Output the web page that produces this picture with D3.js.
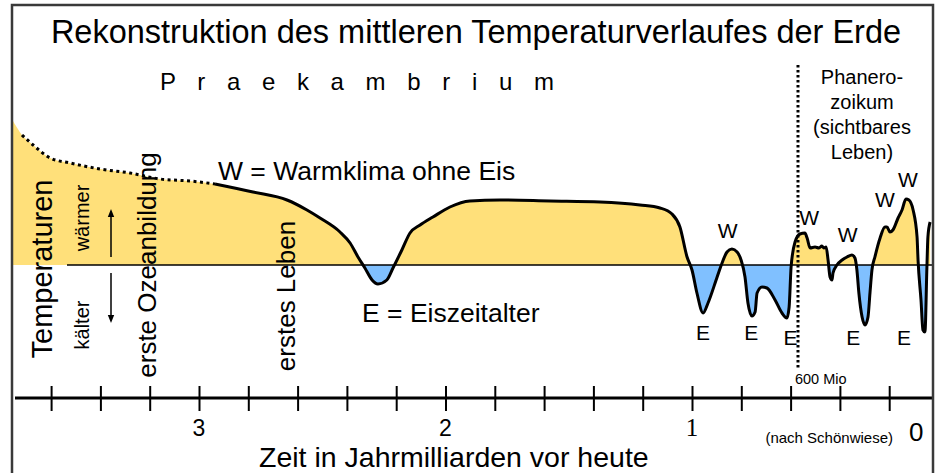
<!DOCTYPE html>
<html>
<head>
<meta charset="utf-8">
<script src="https://cdn.jsdelivr.net/npm/d3@7"></script>
<style>
  html, body { margin: 0; padding: 0; background: #fff; }
  svg { display: block; font-family: "Liberation Sans", Arial, sans-serif; }
</style>
</head>
<body>
<svg id="chart" width="942" height="473"></svg>
<script>
// ---- Data: age in billions of years before present, relative temperature (warmer > 0 > colder)
const ages = [3.759, 3.718, 3.673, 3.604, 3.523, 3.402, 3.280, 3.158, 3.037, 2.935,
  2.781, 2.643, 2.562, 2.509, 2.428, 2.387, 2.355, 2.327, 2.298, 2.274,
  2.238, 2.213, 2.177, 2.144, 2.103, 2.051, 1.982, 1.901, 1.779, 1.576,
  1.373, 1.211, 1.130, 1.081, 1.049, 1.020, 1.000, 0.980, 0.955, 0.935,
  0.898, 0.878, 0.858, 0.838, 0.817, 0.801, 0.785, 0.773, 0.757, 0.744,
  0.736, 0.716, 0.696, 0.663, 0.635, 0.615, 0.606, 0.598, 0.582, 0.562,
  0.542, 0.533, 0.521, 0.501, 0.485, 0.473, 0.465, 0.456, 0.448, 0.440,
  0.432, 0.428, 0.412, 0.391, 0.371, 0.351, 0.339, 0.331, 0.323, 0.310,
  0.298, 0.286, 0.278, 0.270, 0.258, 0.237, 0.217, 0.209, 0.197, 0.185,
  0.164, 0.148, 0.132, 0.120, 0.103, 0.087, 0.083, 0.071, 0.063, 0.055,
  0.047, 0.043, 0.034];
const temps = [14.6, 13.0, 12.0, 10.7, 10.2, 9.6, 9.2, 8.6, 8.4, 8.1,
  7.3, 6.5, 5.5, 4.7, 3.3, 2.2, 0.8, -0.3, -1.5, -1.9,
  -1.5, -0.3, 1.5, 3.2, 4.0, 4.8, 5.8, 6.4, 6.5, 6.4,
  6.3, 6.0, 5.7, 5.1, 3.8, 0.8, -0.5, -2.8, -4.8, -3.8,
  -1.2, 0.2, 1.3, 1.6, 1.3, 0.5, -1.2, -3.8, -5.1, -4.7,
  -2.8, -2.2, -2.3, -3.5, -4.8, -5.3, -4.2, -0.2, 2.3, 3.1,
  3.2, 2.7, 1.7, 1.8, 1.7, 1.9, 1.7, 1.8, 0.5, -1.2,
  -1.5, -0.8, 0.0, 0.5, 0.8, 1.0, 0.7, -0.5, -2.8, -5.2,
  -6.0, -5.2, -2.8, -0.5, 0.8, 2.7, 3.8, 3.8, 3.3, 3.5,
  4.7, 5.5, 6.6, 6.5, 5.5, 2.8, 0.5, -3.5, -6.5, -6.7,
  -0.2, 2.8, 4.3];
const uncertainUntil = 2.935; // older part drawn dotted (reconstruction uncertain)
const uncertainFrom = 3.718;

const minorTicks = [3.6, 3.4, 3.2, 3.0, 2.8, 2.6, 2.4, 2.2, 2.0, 1.8, 1.6, 1.4, 1.2, 1.0, 0.8, 0.6, 0.4, 0.2];
const tickLabels = [3, 2, 1, 0];
const phanerozoicStart = 0.57;

// Annotation labels (age, temperature level)
const warmLabels = [[0.855, 2.7], [0.525, 4.0], [0.368, 2.3], [0.217, 5.8], [0.124, 7.8]];
const iceLabels = [[0.955, -7.5], [0.760, -7.5], [0.600, -8.0], [0.346, -8.0], [0.140, -8.0]];

const title = "Rekonstruktion des mittleren Temperaturverlaufes der Erde";
const eraLabel = "P r a e k a m b r i u m";
const phanLines = ["Phanero-", "zoikum", "(sichtbares", "Leben)"];

const data = ages.map((a, i) => ({ age: a, t: temps[i] }));

const svg = d3.select("#chart");
const x = d3.scaleLinear().domain([3, 1]).range([199, 692]);
const y = d3.scaleLinear().domain([0, 10]).range([265, 165]);
const y0 = y(0);

const defs = svg.append("defs");
defs.append("clipPath").attr("id", "above").append("rect")
  .attr("x", 0).attr("y", 0).attr("width", 942).attr("height", y0);
defs.append("clipPath").attr("id", "below").append("rect")
  .attr("x", 0).attr("y", y0).attr("width", 942).attr("height", 473 - y0);
defs.append("marker").attr("id", "arrow").attr("viewBox", "0 0 10 10")
  .attr("refX", 5).attr("refY", 5).attr("markerWidth", 8).attr("markerHeight", 10)
  .attr("markerUnits", "userSpaceOnUse").attr("orient", "auto")
  .append("path").attr("d", "M0,1 L10,5 L0,9 Z").attr("fill", "#000");

const area = d3.area().x(d => x(d.age)).y0(y0).y1(d => y(d.t)).curve(d3.curveMonotoneX);
svg.append("path").datum(data).attr("d", area).attr("fill", "#FFE07A").attr("clip-path", "url(#above)");
svg.append("path").datum(data).attr("d", area).attr("fill", "#80C0FF").attr("clip-path", "url(#below)");

// zero line
svg.append("line").attr("x1", 67).attr("x2", x(0.02)).attr("y1", y0).attr("y2", y0)
  .attr("stroke", "#000").attr("stroke-width", 1.5);

const line = d3.line().x(d => x(d.age)).y(d => y(d.t)).curve(d3.curveMonotoneX);
svg.append("path").datum(data.filter(d => d.age <= uncertainFrom && d.age >= uncertainUntil))
  .attr("d", line).attr("fill", "none").attr("stroke", "#000").attr("stroke-width", 3)
  .attr("stroke-dasharray", "3,3.5");
svg.append("path").datum(data.filter(d => d.age <= uncertainUntil))
  .attr("d", line).attr("fill", "none").attr("stroke", "#000").attr("stroke-width", 3)
  .attr("stroke-linejoin", "round");

// Phanerozoic boundary
svg.append("line").attr("x1", x(phanerozoicStart)).attr("x2", x(phanerozoicStart))
  .attr("y1", 65).attr("y2", 369).attr("stroke", "#000").attr("stroke-width", 3)
  .attr("stroke-dasharray", "2.5,2.5");
svg.append("text").attr("x", x(phanerozoicStart) - 3).attr("y", 384)
  .attr("font-size", 14.5).text("600 Mio");

// Axis
svg.append("line").attr("x1", 15).attr("x2", 933).attr("y1", 398).attr("y2", 398)
  .attr("stroke", "#000").attr("stroke-width", 3);
const axis = d3.axisBottom(x).tickValues(minorTicks).tickSize(25).tickFormat("");
const ag = svg.append("g").attr("transform", "translate(0,386)").call(axis);
ag.select(".domain").remove();
ag.selectAll(".tick line").attr("stroke", "#000").attr("stroke-width", 2);

svg.selectAll("text.tl").data(tickLabels).enter().append("text")
  .attr("class", "tl")
  .attr("x", d => d === 0 ? x(d) - 15 : x(d))
  .attr("y", d => d === 0 ? 441 : 436)
  .attr("text-anchor", d => d === 0 ? "end" : "middle")
  .attr("font-family", d => d === 1 ? "'Liberation Serif', serif" : null)
  .attr("font-size", d => d === 0 ? 26 : (d === 1 ? 25 : 23))
  .text(d => d);

svg.append("text").attr("x", 259).attr("y", 467).attr("font-size", 28.5)
  .text("Zeit in Jahrmilliarden vor heute");
svg.append("text").attr("x", 893).attr("y", 443).attr("text-anchor", "end")
  .attr("font-size", 15).text("(nach Schönwiese)");

// Titles
svg.append("text").attr("x", 476).attr("y", 43).attr("text-anchor", "middle")
  .attr("font-size", 32.5).text(title);
svg.append("text").attr("x", 160).attr("y", 90).attr("font-size", 24)
  .attr("letter-spacing", 7.5).text(eraLabel);
svg.selectAll("text.ph").data(phanLines).enter().append("text")
  .attr("class", "ph").attr("x", 862).attr("y", (d, i) => 84 + i * 25)
  .attr("text-anchor", "middle").attr("font-size", 20).text(d => d);

svg.append("text").attr("x", 218).attr("y", 180).attr("font-size", 26.5)
  .text("W = Warmklima ohne Eis");
svg.append("text").attr("x", 362).attr("y", 322).attr("font-size", 26.5)
  .text("E = Eiszeitalter");

// W / E markers
svg.selectAll("text.w").data(warmLabels).enter().append("text")
  .attr("class", "w").attr("x", d => x(d[0])).attr("y", d => y(d[1]))
  .attr("text-anchor", "middle").attr("font-size", 21).text("W");
svg.selectAll("text.e").data(iceLabels).enter().append("text")
  .attr("class", "e").attr("x", d => x(d[0])).attr("y", d => y(d[1]))
  .attr("text-anchor", "middle").attr("font-size", 21).text("E");

// Vertical texts
function vtext(cx, cy, size, str) {
  svg.append("text").attr("transform", `translate(${cx},${cy}) rotate(-90)`)
    .attr("text-anchor", "middle").attr("font-size", size).text(str);
}
vtext(52, 269, 29, "Temperaturen");
vtext(89, 218, 20, "wärmer");
vtext(89, 325, 20, "kälter");
vtext(156, 265, 26, "erste Ozeanbildung");
vtext(295, 296, 26, "erstes Leben");

// arrows
svg.append("line").attr("x1", 111).attr("x2", 111).attr("y1", 257).attr("y2", 213)
  .attr("stroke", "#000").attr("stroke-width", 1.5).attr("marker-end", "url(#arrow)");
svg.append("line").attr("x1", 111).attr("x2", 111).attr("y1", 273).attr("y2", 319)
  .attr("stroke", "#000").attr("stroke-width", 1.5).attr("marker-end", "url(#arrow)");

// frame
svg.append("rect").attr("x", 12).attr("y", 5).attr("width", 921).attr("height", 478)
  .attr("fill", "none").attr("stroke", "#3a3a3a").attr("stroke-width", 2.5);
</script>
</body>
</html>
